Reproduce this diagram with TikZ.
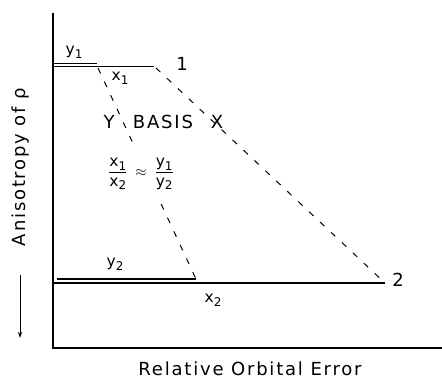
\documentclass[tikz,border=0pt]{standalone}
\usepackage{amsmath}
\usepackage{fontspec}
\setmainfont{DejaVu Sans}
\newfontfamily\spaced[LetterSpace=10]{DejaVu Sans}
\usepackage{tikz}
\usetikzlibrary{arrows.meta, positioning}
\newcommand{\sub}[1]{\raisebox{-0.45ex}{\fontsize{12}{12}\selectfont #1}}

\begin{document}
\begin{tikzpicture}[x=1pt, y=-1pt,
  axis/.style={line width=1.3pt},
  level/.style={line width=1.1pt},
  guide/.style={line width=1pt, dash pattern=on 6pt off 9pt},
  lbl/.style={font=\fontsize{18}{21}\spaced, inner sep=0pt},
  tag/.style={font=\fontsize{15.5}{18}\selectfont, inner sep=0pt}
]
\useasboundingbox (0,0) rectangle (442,379);
\coordinate (top) at (53,13);
\coordinate (orig) at (53,348);
\coordinate (right) at (442,348);
\draw[axis] (top) -- (orig) -- (right);
\coordinate (y1a) at (53,63.5);
\coordinate (y1b) at (97,63.5);
\coordinate (x1a) at (53,66.5);
\coordinate (x1b) at (154,66.5);
\coordinate (y2a) at (57,279);
\coordinate (y2b) at (196,279);
\coordinate (x2a) at (53,283);
\coordinate (x2b) at (385,283);
\draw[level] (y1a) -- (y1b);
\draw[level, line width=1.8pt] (x1a) -- (x1b);
\draw[level] (y2a) -- (y2b);
\draw[level] (x2a) -- (x2b);
\draw[guide] (98,68) -- (y2b);
\draw[guide] (156,68) -- (x2b);
\node[lbl] (one) at (182,64) {1};
\node[lbl] (two) at (398,280) {2};
\node[tag] (ly1) at (74,52) {y\sub1};
\node[tag] (lx1) at (120,78) {x\sub1};
\node[tag] (ly2) at (115,264) {y\sub2};
\node[tag] (lx2) at (213,300) {x\sub2};
\node[lbl] (ybas) at (109,122) {Y};
\node[lbl] (basis) at (163,122) {BASIS};
\node[lbl] (xbas) at (217,122) {X};
\node[tag, fill=white, inner ysep=9pt] (ratio) at (141,174) {$\dfrac{\mbox{x\sub1}}{\mbox{x\sub2}} \;\approx\; \dfrac{\mbox{y\sub1}}{\mbox{y\sub2}}$};
\node[lbl, rotate=90] (ylab) at (21,167) {Anisotropy of ρ};
\node[lbl, anchor=base] (xlab) at (250,376) {Relative Orbital Error};
\coordinate (arrs) at (20,275);
\coordinate (arre) at (20,338);
\draw[line width=1pt, -{Stealth[length=6pt, width=4pt]}] (arrs) -- (arre);
\end{tikzpicture}
\end{document}
